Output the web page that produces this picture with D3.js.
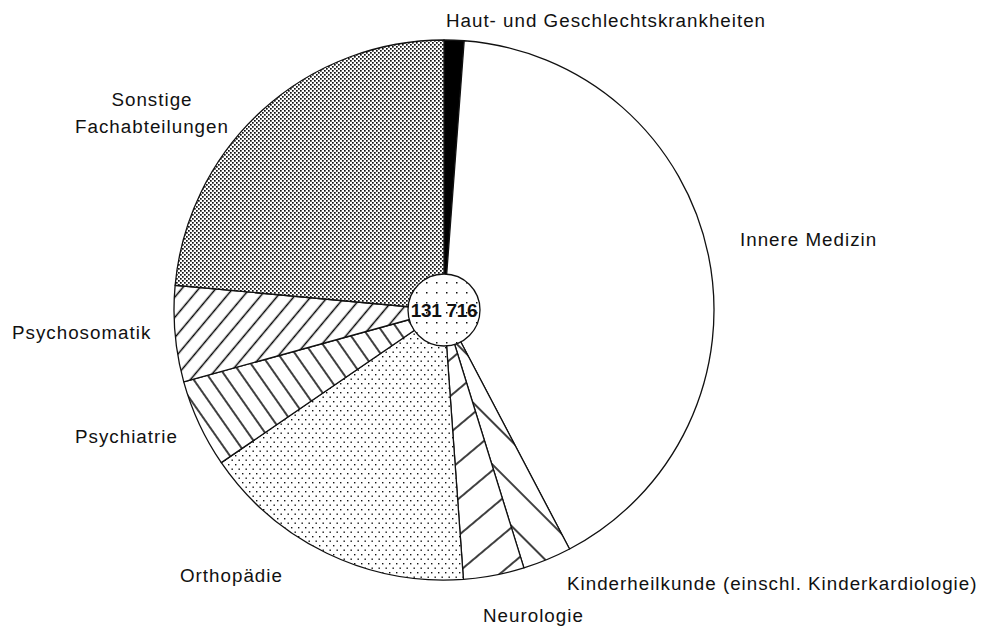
<!DOCTYPE html>
<html>
<head>
<meta charset="utf-8">
<script src="https://cdn.jsdelivr.net/npm/d3@7"></script>
<style>
  body { margin: 0; background: #fff; }
  text { font-family: "Liberation Sans", Arial, sans-serif; fill: #111; }
</style>
</head>
<body>
<svg id="chart" width="995" height="630"></svg>
<script>
// Fachabteilungen (order clockwise from 12 o'clock)
var departments = ["Haut- und Geschlechtskrankheiten", "Innere Medizin",
    "Kinderheilkunde (einschl. Kinderkardiologie)", "Neurologie", "Orthopädie",
    "Psychiatrie", "Psychosomatik", "Sonstige Fachabteilungen"];
var beds = [1570, 54150, 3840, 4790, 21840, 6950, 7570, 31006];
var totalLabel = "131 716";

// fill for each slice (pattern ids)
var fills = ["black", "white", "url(#hatchKinder)", "url(#hatchNeuro)", "url(#dotsOrtho)",
    "url(#hatchPsychiatrie)", "url(#hatchPsychosomatik)", "url(#dotsSonstige)"];

// label placement: [x, y, anchor, text], multi-line labels split on "|"
var labelLayout = [
    [606, 27, "middle", "Haut- und Geschlechtskrankheiten"],
    [740, 246, "start", "Innere Medizin"],
    [567, 590, "start", "Kinderheilkunde (einschl. Kinderkardiologie)"],
    [483, 622, "start", "Neurologie"],
    [180, 582, "start", "Orthopädie"],
    [75, 443, "start", "Psychiatrie"],
    [12, 339, "start", "Psychosomatik"],
    [152, 106, "middle", "Sonstige|Fachabteilungen"]
];

var svg = d3.select("#chart");
var cx = 444, cy = 310, radius = 270, innerR = 36;

var defs = svg.append("defs");

function hatch(id, spacing, angle) {
    var p = defs.append("pattern")
        .attr("id", id)
        .attr("patternUnits", "userSpaceOnUse")
        .attr("width", spacing).attr("height", spacing)
        .attr("patternTransform", "rotate(" + angle + ")");
    p.append("rect").attr("width", spacing).attr("height", spacing).attr("fill", "white");
    p.append("line")
        .attr("x1", spacing / 2).attr("y1", -1)
        .attr("x2", spacing / 2).attr("y2", spacing + 1)
        .attr("stroke", "#000").attr("stroke-width", 1.5);
}

function dots(id, w, h, r, pts) {
    var p = defs.append("pattern")
        .attr("id", id)
        .attr("patternUnits", "userSpaceOnUse")
        .attr("width", w).attr("height", h);
    p.append("rect").attr("width", w).attr("height", h).attr("fill", "white");
    pts.forEach(function(pt) {
        p.append("rect")
            .attr("x", pt[0]).attr("y", pt[1])
            .attr("width", r).attr("height", r)
            .attr("fill", "#111");
    });
}

hatch("hatchPsychosomatik", 13, 40);
hatch("hatchPsychiatrie", 14, -35);
hatch("hatchNeuro", 28, 50);
hatch("hatchKinder", 30, -45);
dots("dotsSonstige", 4, 4, 1.7, [[0, 0], [2, 2]]);
dots("dotsOrtho", 7, 9, 1.4, [[1, 1], [4.5, 5.5]]);
dots("dotsCenter", 10, 10, 1.5, [[2, 2]]);

var pie = d3.pie().sort(null).value(function(d) { return d; });
var arc = d3.arc().innerRadius(0).outerRadius(radius);

var g = svg.append("g").attr("transform", "translate(" + cx + "," + cy + ")");

g.selectAll("path.slice")
    .data(pie(beds))
    .enter()
    .append("path")
        .attr("class", "slice")
        .attr("d", arc)
        .attr("fill", function(d, i) { return fills[i]; })
        .attr("stroke", "#111")
        .attr("stroke-width", 1.3)
        .attr("stroke-linejoin", "round");

// centre disc with total
g.append("circle")
    .attr("r", innerR)
    .attr("fill", "url(#dotsCenter)")
    .attr("stroke", "#111")
    .attr("stroke-width", 1.3);

g.append("text")
    .attr("x", 0).attr("y", 7)
    .attr("text-anchor", "middle")
    .attr("font-size", 19)
    .attr("font-weight", "bold")
    .attr("letter-spacing", -0.3)
    .text(totalLabel);

// labels
labelLayout.forEach(function(l) {
    var lines = l[3].split("|");
    var t = svg.append("text")
        .attr("x", l[0]).attr("y", l[1])
        .attr("text-anchor", l[2])
        .attr("font-size", 18.8)
        .attr("letter-spacing", 1.0);
    lines.forEach(function(s, k) {
        t.append("tspan")
            .attr("x", l[0])
            .attr("dy", k == 0 ? 0 : 27)
            .text(s);
    });
});
</script>
</body>
</html>
